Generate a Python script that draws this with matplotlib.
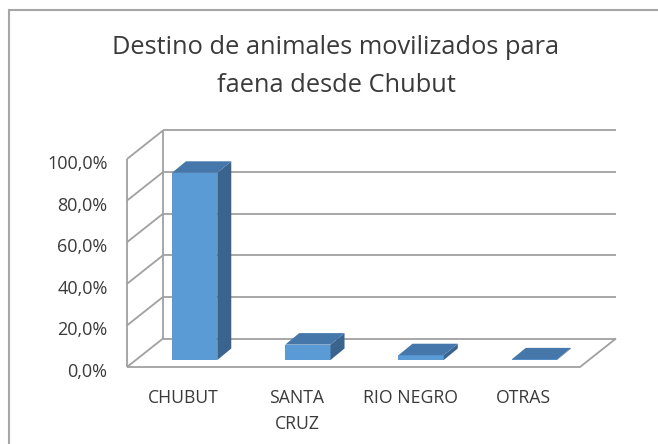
import matplotlib
matplotlib.use('Agg')
import matplotlib.pyplot as plt
import matplotlib.transforms as mtransforms
from matplotlib.patches import Polygon, Rectangle

# data
categories = ['CHUBUT', 'SANTA\nCRUZ', 'RIO NEGRO', 'OTRAS']
shares = [90.0, 7.4, 2.3, 0.3]          # percent
y_ticks = [0, 20, 40, 60, 80, 100]
y_tick_labels = ['0,0%', '20,0%', '40,0%', '60,0%', '80,0%', '100,0%']
title_lines = ['Destino de animales movilizados para', 'faena desde Chubut']

W, H = 658, 444
plt.rcParams['font.family'] = ['Open Sans', 'DejaVu Sans']
text_col = '#3A3A3A'
grid_col = '#A0A0A0'
front_col = '#5B9BD5'
top_col = '#4577AB'
side_col = '#3A648D'

fig = plt.figure(figsize=(W / 100, H / 100), dpi=100)

# front plane of the 3d box, in pixels
x_left, x_right = 127, 580
y_zero, y_full = 367, 159
ax = fig.add_axes([x_left / W, 1 - y_zero / H, (x_right - x_left) / W, (y_zero - y_full) / H])
ax.set_xlim(0, len(categories))
ax.set_ylim(0, 100)
for s in ax.spines.values():
    s.set_visible(False)

px_x = (x_right - x_left) / len(categories)
px_y = (y_zero - y_full) / 100.0


def depth(dx, dy):
    '''pixel offset -> data offset'''
    return dx / px_x, dy / px_y


# wall depth and bar depth (oblique projection)
Dx, Dy = depth(36, 28.5)
bar_ox, bar_oy = depth(11, 7)
bdx, bdy = depth(14, 11.5)
bar_w = 0.4

n = len(categories)
lk = dict(color=grid_col, lw=1.3, clip_on=False, zorder=1, solid_capstyle='butt')
# back wall grid
for v in y_ticks:
    ax.plot([Dx, n + Dx], [v + Dy, v + Dy], **lk)
    ax.plot([0, Dx], [v, v + Dy], **lk)
# left wall verticals
ax.plot([0, 0], [0, 100], **lk)
ax.plot([Dx, Dx], [Dy, 100 + Dy], **lk)
# floor
ax.plot([0, n, n + Dx], [0, 0, Dy], **lk)

# bars
for i, v in enumerate(shares):
    xl = i + 0.5 - bar_w / 2 + bar_ox
    yb = bar_oy
    ax.add_patch(Rectangle((xl, yb), bar_w, v, facecolor=front_col, edgecolor='none',
                           zorder=3, clip_on=False))
    ax.add_patch(Polygon([(xl + bar_w, yb), (xl + bar_w + bdx, yb + bdy),
                          (xl + bar_w + bdx, yb + v + bdy), (xl + bar_w, yb + v)],
                         closed=True, facecolor=side_col, edgecolor='none', zorder=3, clip_on=False))
    ax.add_patch(Polygon([(xl, yb + v), (xl + bar_w, yb + v),
                          (xl + bar_w + bdx, yb + v + bdy), (xl + bdx, yb + v + bdy)],
                         closed=True, facecolor=top_col, edgecolor='none', zorder=3, clip_on=False))

ax.set_yticks(y_ticks)
ax.set_yticklabels(y_tick_labels)
ax.set_xticks([i + 0.5 for i in range(n)])
ax.set_xticklabels(categories, linespacing=1.55, va='top')
ax.tick_params(axis='y', length=0, pad=14, labelsize=13, labelcolor=text_col)
ax.tick_params(axis='x', length=0, pad=16, labelsize=12.7, labelcolor=text_col)
shift = mtransforms.ScaledTranslation(0, -3 / 100, fig.dpi_scale_trans)
for lab in ax.get_yticklabels():
    lab.set_transform(lab.get_transform() + shift)

# title
fig.text(336 / W, 1 - 48 / H, title_lines[0], ha='center', va='center', fontsize=18.3, color=text_col)
fig.text(336 / W, 1 - 85 / H, title_lines[1], ha='center', va='center', fontsize=18.3, color=text_col)

# chart area border (runs off the right and bottom edge)
fig.patches.append(Rectangle((9 / W, -0.1), 1.2, 1 - 10 / H + 0.1, transform=fig.transFigure,
                             fill=False, edgecolor='#A6A6A6', lw=1.5))

fig.savefig('out.png', dpi=100)
